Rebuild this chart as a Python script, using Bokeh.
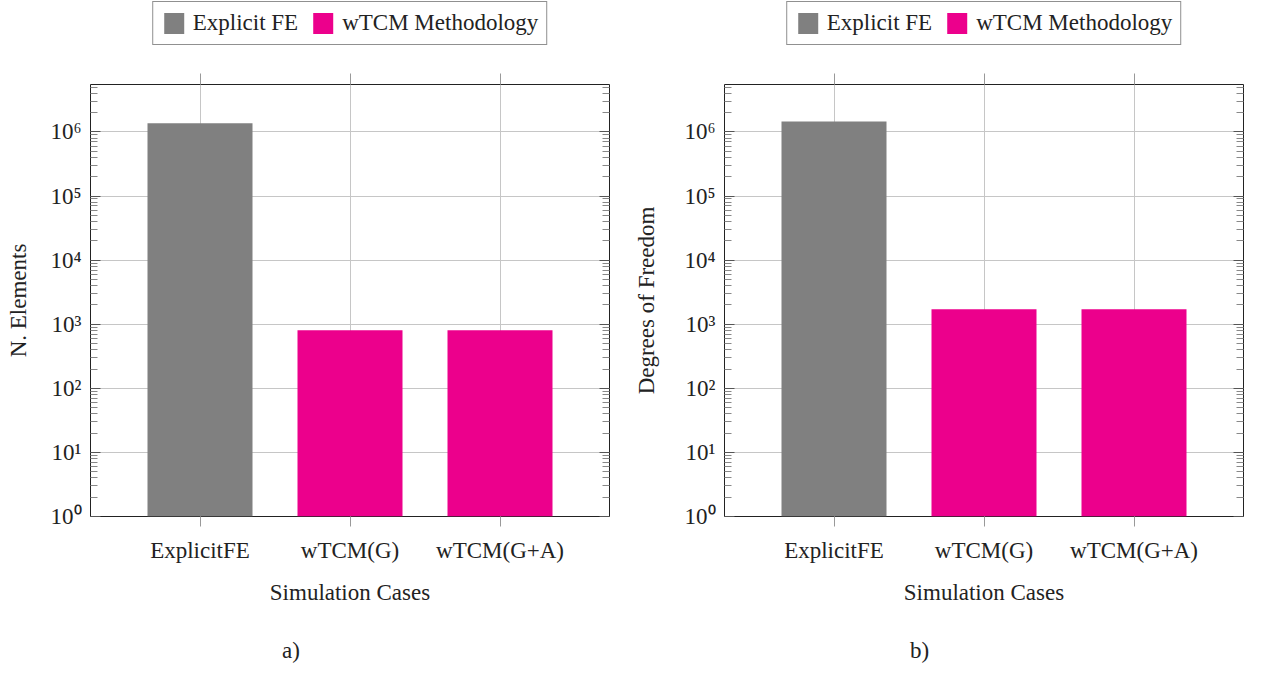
from bokeh.plotting import figure
from bokeh.models import (FixedTicker, LogAxis, CategoricalAxis, Legend, LegendItem, Div,
                          Range1d, FactorRange, ColumnDataSource)
from bokeh.core.properties import value
from bokeh.layouts import row, column
from bokeh.embed import file_html
from bokeh.resources import INLINE

# ---------------- data ----------------
cases = ["ExplicitFE", "wTCM(G)", "wTCM(G+A)"]
methods = ["Explicit FE", "wTCM Methodology", "wTCM Methodology"]
n_elements = [1.37e6, 806, 806]
degrees_of_freedom = [1.46e6, 1720, 1720]
y_ticks = [1, 10, 100, 1000, 10000, 100000, 1000000]
y_tick_labels = ["10⁰", "10¹", "10²", "10³", "10⁴", "10⁵", "10⁶"]
method_colors = {"Explicit FE": "#808080", "wTCM Methodology": "#EC008C"}
x_label = "Simulation Cases"
y_labels = ["N. Elements", "Degrees of Freedom"]
panel_labels = ["a)", "b)"]

FONT = "Liberation Serif"
TEXT = "#222222"
GRID = "#c6c6c6"
LEG_H = 46


def make_panel(vals, ylabel, width, b_left, b_right, ylab_standoff):
    src = ColumnDataSource(dict(case=cases, value=vals, method=methods,
                                color=[method_colors[m] for m in methods]))
    p = figure(x_range=FactorRange(factors=cases, range_padding=0.23,
                                   range_padding_units="absolute"),
               y_axis_type="log", y_range=Range1d(1, 5.5e6),
               width=width, height=615 - LEG_H, output_backend="svg",
               toolbar_location=None,
               min_border_left=b_left, min_border_right=b_right,
               min_border_top=84 - LEG_H, min_border_bottom=99,
               x_axis_label=x_label, y_axis_label=ylabel)
    p.background_fill_color = "white"
    p.border_fill_color = "white"
    p.outline_line_color = "#222222"
    p.outline_line_width = 1

    p.vbar(x="case", top="value", bottom=1, width=0.7, color="color",
           line_color=None, source=src)

    minor = [m * t for t in y_ticks for m in range(2, 10)]
    ticker = FixedTicker(ticks=y_ticks, minor_ticks=minor)
    overrides = {t: lab for t, lab in zip(y_ticks, y_tick_labels)}

    # left y axis
    ya = p.yaxis[0]
    ya.ticker = ticker
    ya.major_label_overrides = overrides
    ya.major_tick_in = 10
    ya.major_tick_out = 0
    ya.minor_tick_in = 7
    ya.minor_tick_out = 0
    ya.major_tick_line_color = "#555555"
    ya.minor_tick_line_color = "#888888"
    ya.axis_line_color = None
    ya.major_label_standoff = 9
    ya.major_label_text_font = FONT
    ya.major_label_text_font_size = "23px"
    ya.major_label_text_color = TEXT
    ya.axis_label_text_font = FONT
    ya.axis_label_text_font_size = "23px"
    ya.axis_label_text_font_style = "normal"
    ya.axis_label_text_color = TEXT
    ya.axis_label_standoff = ylab_standoff

    # right mirrored y axis (ticks only, labels hidden)
    ra = LogAxis(ticker=ticker, major_tick_in=10, major_tick_out=0,
                 minor_tick_in=7, minor_tick_out=0,
                 major_tick_line_color="#555555", minor_tick_line_color="#888888",
                 axis_line_color=None, major_label_text_font_size="1px",
                 major_label_text_color=None, major_label_standoff=0)
    p.add_layout(ra, "right")

    # bottom x axis
    xa = p.xaxis[0]
    xa.major_tick_in = 0
    xa.major_tick_out = 10
    xa.major_tick_line_color = "#999999"
    xa.axis_line_color = None
    xa.major_label_standoff = 11
    xa.major_label_text_font = FONT
    xa.major_label_text_font_size = "23px"
    xa.major_label_text_color = TEXT
    xa.axis_label_text_font = FONT
    xa.axis_label_text_font_size = "23px"
    xa.axis_label_text_font_style = "normal"
    xa.axis_label_text_color = TEXT
    xa.axis_label_standoff = 14

    # top x axis (ticks only, labels hidden)
    ta = CategoricalAxis(major_tick_in=0, major_tick_out=11,
                         major_tick_line_color="#999999", axis_line_color=None,
                         major_label_text_font_size="1px",
                         major_label_text_color=None, major_label_standoff=0)
    p.add_layout(ta, "above")

    p.ygrid.ticker = ticker
    p.ygrid.grid_line_color = GRID
    p.xgrid.grid_line_color = GRID

    # legend strip above the plot: same source, hidden renderer, shared frame width
    lf = figure(x_range=FactorRange(factors=cases), y_range=Range1d(0, 1),
                width=width, height=LEG_H, output_backend="svg", toolbar_location=None,
                x_axis_location=None, y_axis_location=None,
                min_border_left=b_left, min_border_right=b_right,
                min_border_top=0, min_border_bottom=0)
    lf.outline_line_color = None
    lf.grid.visible = False
    lr = lf.vbar(x="case", top="value", bottom=1, width=0.7, color="color",
                 line_color=None, source=src, visible=False)
    items = [
        LegendItem(label=value("Explicit FE"), renderers=[lr], index=0),
        LegendItem(label=value("wTCM Methodology"), renderers=[lr], index=1),
    ]
    leg = Legend(items=items, location="center", orientation="horizontal",
                 glyph_width=25, glyph_height=26, label_standoff=7, spacing=12,
                 padding=8, margin=0, border_line_color="#222222",
                 border_line_width=1, background_fill_alpha=1,
                 label_text_font=FONT, label_text_font_size="23px",
                 label_text_color=TEXT)
    lf.add_layout(leg)
    return lf, p


def make_label(text, pad_left):
    return Div(text=(f'<div style="padding-left:{pad_left}px;padding-top:15px;'
                     f"font-family:'{FONT}';font-size:23px;color:{TEXT}\">{text}</div>"),
               width=300, height=50)


l1, p1 = make_panel(n_elements, y_labels[0], 630, 90, 21, 16)
l2, p2 = make_panel(degrees_of_freedom, y_labels[1], 626, 94, 13, 22)
d1 = make_label(panel_labels[0], 277)
d2 = make_label(panel_labels[1], 275)

layout = row(column(l1, p1, d1, spacing=0), column(l2, p2, d2, spacing=0), spacing=0)

open("out.html", "w").write(file_html(layout, INLINE))
